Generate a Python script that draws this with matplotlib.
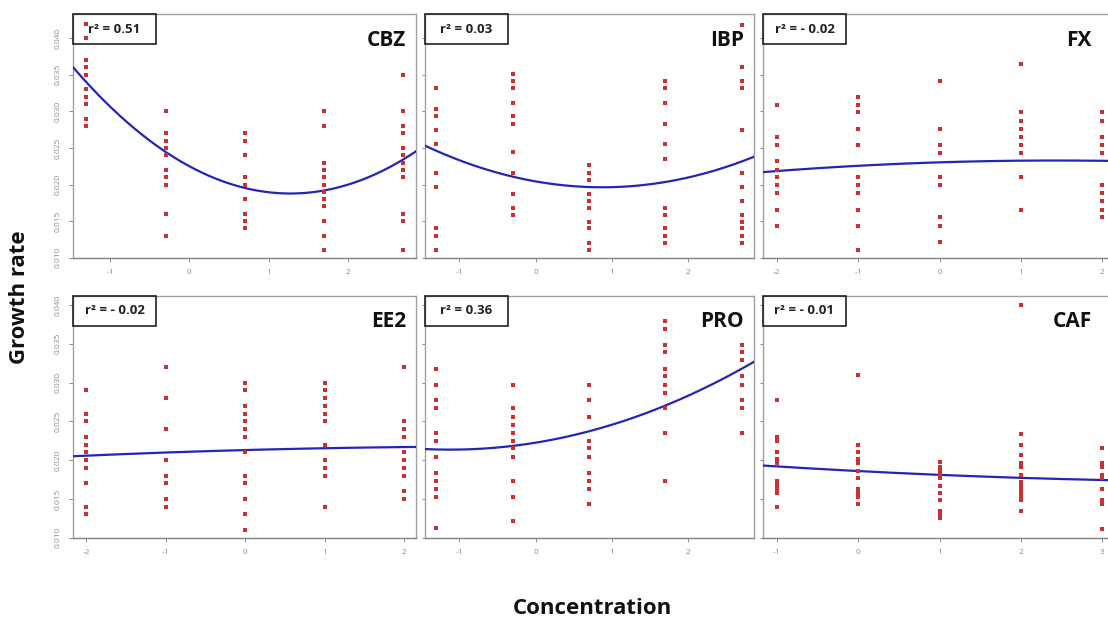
import numpy as np
import matplotlib.pyplot as plt
from matplotlib.patches import Rectangle

plt.rcParams['font.family'] = ['Open Sans', 'DejaVu Sans']
plt.rcParams['axes.unicode_minus'] = False

# panel names and r2 labels
names = ['CBZ', 'IBP', 'FX', 'EE2', 'PRO', 'CAF']
r2_labels = ['r² = 0.51', 'r² = 0.03', 'r² = - 0.02',
             'r² = - 0.02', 'r² = 0.36', 'r² = - 0.01']

# x levels (log concentration) per panel
cbz_x = [-1.3, -0.3, 0.7, 1.7, 2.7]
ibp_x = [-1.3, -0.3, 0.7, 1.7, 2.7]
fx_x = [-2, -1, 0, 1, 2]
ee2_x = [-2, -1, 0, 1, 2]
pro_x = [-1.3, -0.3, 0.7, 1.7, 2.7]
caf_x = [-1, 0, 1, 2, 3]

# growth rates per concentration level
cbz_y = [
    [0.042, 0.040, 0.037, 0.036, 0.035, 0.033, 0.032, 0.031, 0.029, 0.028],
    [0.030, 0.027, 0.026, 0.025, 0.024, 0.022, 0.021, 0.020, 0.016, 0.013],
    [0.027, 0.026, 0.024, 0.021, 0.020, 0.018, 0.016, 0.015, 0.014],
    [0.030, 0.028, 0.023, 0.022, 0.021, 0.020, 0.019, 0.018, 0.017, 0.015, 0.013, 0.011],
    [0.035, 0.030, 0.028, 0.027, 0.025, 0.024, 0.023, 0.022, 0.021, 0.016, 0.015, 0.011],
]
ibp_y = [
    [0.0332, 0.0303, 0.0293, 0.0274, 0.0255, 0.0216, 0.0197, 0.0140, 0.0130, 0.0110],
    [0.0351, 0.0341, 0.0332, 0.0312, 0.0293, 0.0283, 0.0245, 0.0216, 0.0187, 0.0168, 0.0158],
    [0.0226, 0.0216, 0.0206, 0.0187, 0.0178, 0.0168, 0.0149, 0.0140, 0.0120, 0.0110],
    [0.0341, 0.0332, 0.0312, 0.0283, 0.0255, 0.0235, 0.0168, 0.0158, 0.0140, 0.0130, 0.0120],
    [0.0418, 0.0361, 0.0341, 0.0332, 0.0274, 0.0216, 0.0197, 0.0178, 0.0158, 0.0149,
     0.0140, 0.0130, 0.0120],
]
fx_y = [
    [0.0309, 0.0265, 0.0254, 0.0232, 0.0220, 0.0210, 0.0199, 0.0188, 0.0165, 0.0144],
    [0.0320, 0.0309, 0.0299, 0.0276, 0.0254, 0.0210, 0.0199, 0.0188, 0.0165, 0.0144, 0.0110],
    [0.0342, 0.0276, 0.0254, 0.0243, 0.0210, 0.0199, 0.0155, 0.0144, 0.0121],
    [0.0365, 0.0299, 0.0287, 0.0276, 0.0265, 0.0254, 0.0243, 0.0210, 0.0165],
    [0.0299, 0.0287, 0.0265, 0.0254, 0.0243, 0.0199, 0.0188, 0.0177, 0.0165, 0.0155],
]
ee2_y = [
    [0.029, 0.026, 0.025, 0.023, 0.022, 0.021, 0.020, 0.019, 0.017, 0.014, 0.013],
    [0.032, 0.028, 0.024, 0.020, 0.018, 0.017, 0.015, 0.014],
    [0.030, 0.029, 0.027, 0.026, 0.025, 0.024, 0.023, 0.021, 0.018, 0.017, 0.015, 0.013, 0.011],
    [0.030, 0.029, 0.028, 0.027, 0.026, 0.025, 0.022, 0.020, 0.019, 0.018, 0.014],
    [0.032, 0.025, 0.024, 0.023, 0.021, 0.020, 0.019, 0.018, 0.016, 0.015],
]
pro_y = [
    [0.0318, 0.0297, 0.0277, 0.0267, 0.0235, 0.0225, 0.0204, 0.0184, 0.0173, 0.0163,
     0.0153, 0.0112],
    [0.0297, 0.0267, 0.0256, 0.0245, 0.0235, 0.0225, 0.0215, 0.0204, 0.0173, 0.0153, 0.0122],
    [0.0297, 0.0277, 0.0256, 0.0225, 0.0215, 0.0204, 0.0184, 0.0173, 0.0163, 0.0143],
    [0.0380, 0.0369, 0.0349, 0.0339, 0.0318, 0.0308, 0.0297, 0.0287, 0.0267, 0.0235, 0.0173],
    [0.0349, 0.0339, 0.0329, 0.0308, 0.0297, 0.0277, 0.0267, 0.0235],
]
caf_y = [
    [0.0277, 0.0230, 0.0225, 0.0210, 0.0201, 0.0196, 0.0173, 0.0168, 0.0163, 0.0158, 0.0139],
    [0.0310, 0.0220, 0.0210, 0.0201, 0.0196, 0.0186, 0.0177, 0.0163, 0.0158, 0.0153, 0.0144],
    [0.0197, 0.0191, 0.0186, 0.0181, 0.0177, 0.0167, 0.0158, 0.0148, 0.0134, 0.0130, 0.0125],
    [0.0400, 0.0234, 0.0220, 0.0206, 0.0196, 0.0191, 0.0181, 0.0172, 0.0167, 0.0163,
     0.0158, 0.0153, 0.0148, 0.0134],
    [0.0215, 0.0196, 0.0191, 0.0181, 0.0177, 0.0163, 0.0148, 0.0144, 0.0111],
]

# fitted quadratic at a few x positions
cbz_fit_x = [-1.47, -0.3, 1.25, 2.86]
cbz_fit_y = [0.0361, 0.0243, 0.0189, 0.0245]
ibp_fit_x = [-1.45, -0.3, 0.9, 2.86]
ibp_fit_y = [0.0253, 0.0211, 0.0196, 0.0238]
fx_fit_x = [-2.17, 0, 1, 2.17]
fx_fit_y = [0.0217, 0.0230, 0.0233, 0.0232]
ee2_fit_x = [-2.17, 0, 2.15]
ee2_fit_y = [0.0205, 0.0213, 0.0217]
pro_fit_x = [-1.45, -0.3, 0.7, 1.7, 2.86]
pro_fit_y = [0.0214, 0.0219, 0.0237, 0.0270, 0.0327]
caf_fit_x = [-1.17, 1, 3.17]
caf_fit_y = [0.0193, 0.0181, 0.0174]

xs = [cbz_x, ibp_x, fx_x, ee2_x, pro_x, caf_x]
ys = [cbz_y, ibp_y, fx_y, ee2_y, pro_y, caf_y]
fit_xs = [cbz_fit_x, ibp_fit_x, fx_fit_x, ee2_fit_x, pro_fit_x, caf_fit_x]
fit_ys = [cbz_fit_y, ibp_fit_y, fx_fit_y, ee2_fit_y, pro_fit_y, caf_fit_y]
xlims = [(-1.47, 2.86), (-1.45, 2.86), (-2.17, 2.17),
         (-2.17, 2.15), (-1.45, 2.86), (-1.17, 3.17)]
xticks = [[-1, 0, 1, 2], [-1, 0, 1, 2], [-2, -1, 0, 1, 2],
          [-2, -1, 0, 1, 2], [-1, 0, 1, 2], [-1, 0, 1, 2, 3]]
yticks = [0.010, 0.015, 0.020, 0.025, 0.030, 0.035, 0.040]

W, H = 1108, 621
fig = plt.figure(figsize=(W / 100, H / 100), dpi=100)

# panel boxes in pixels: left, right, top, bottom
cols = [(73, 416), (425, 754), (763, 1116)]
rows = [(14, 258), (296, 538)]
ylims = [(0.00996, 0.0433), (0.00996, 0.04116)]

gray = '#8c8c8c'
for i in range(6):
    r, c = divmod(i, 3)
    l, rt = cols[c]
    t, b = rows[r]
    ax = fig.add_axes([l / W, 1 - b / H, (rt - l) / W, (b - t) / H])
    ax.set_xlim(xlims[i])
    ax.set_ylim(ylims[r])

    for xv, col in zip(xs[i], ys[i]):
        ax.scatter([xv] * len(col), col, s=5.5, marker='s', color='#cc3030',
                   linewidths=0, zorder=5)

    coef = np.polyfit(fit_xs[i], fit_ys[i], 2)
    xx = np.linspace(xlims[i][0], xlims[i][1], 200)
    ax.plot(xx, np.polyval(coef, xx), color='#2424b8', lw=1.6, zorder=4)

    for s in ax.spines.values():
        s.set_color('#a0a0a0')
        s.set_linewidth(1.0)
    ax.spines['bottom'].set_color('#808080')

    ax.set_xticks(xticks[i])
    ax.set_yticks(yticks)
    ax.tick_params(colors=gray, labelcolor=gray, labelsize=6, length=3,
                   width=0.7, pad=5)
    if c == 0:
        ax.set_yticklabels(['%.3f' % v for v in yticks], rotation=90, va='center')
    else:
        ax.tick_params(axis='y', labelleft=False, length=2)

    # r2 box in the corner
    bw = 83 / (rt - l)
    bh = 30 / (b - t)
    ax.add_patch(Rectangle((0, 1 - bh), bw, bh, transform=ax.transAxes,
                           fill=False, edgecolor='#222222',
                           lw=1.2, clip_on=False, zorder=6))
    ax.text(bw / 2, 1 - bh / 2, r2_labels[i], transform=ax.transAxes,
            ha='center', va='center', fontsize=9.5, fontweight='bold',
            color='#222222', zorder=7)

    title_x = (min(rt, 1102) - 10 - l) / (rt - l)
    ax.text(title_x, 1 - 26 / (b - t), names[i], transform=ax.transAxes,
            ha='right', va='center', fontsize=15, fontweight='bold',
            color='#111111', zorder=7)

fig.text(20 / W, 1 - 297 / H, 'Growth rate', rotation=90, ha='center',
         va='center', fontsize=16, fontweight='bold', color='#111111')
fig.text(592 / W, 1 - 609 / H, 'Concentration', ha='center', va='center',
         fontsize=16, fontweight='bold', color='#111111')

fig.savefig('out.png', dpi=100)
